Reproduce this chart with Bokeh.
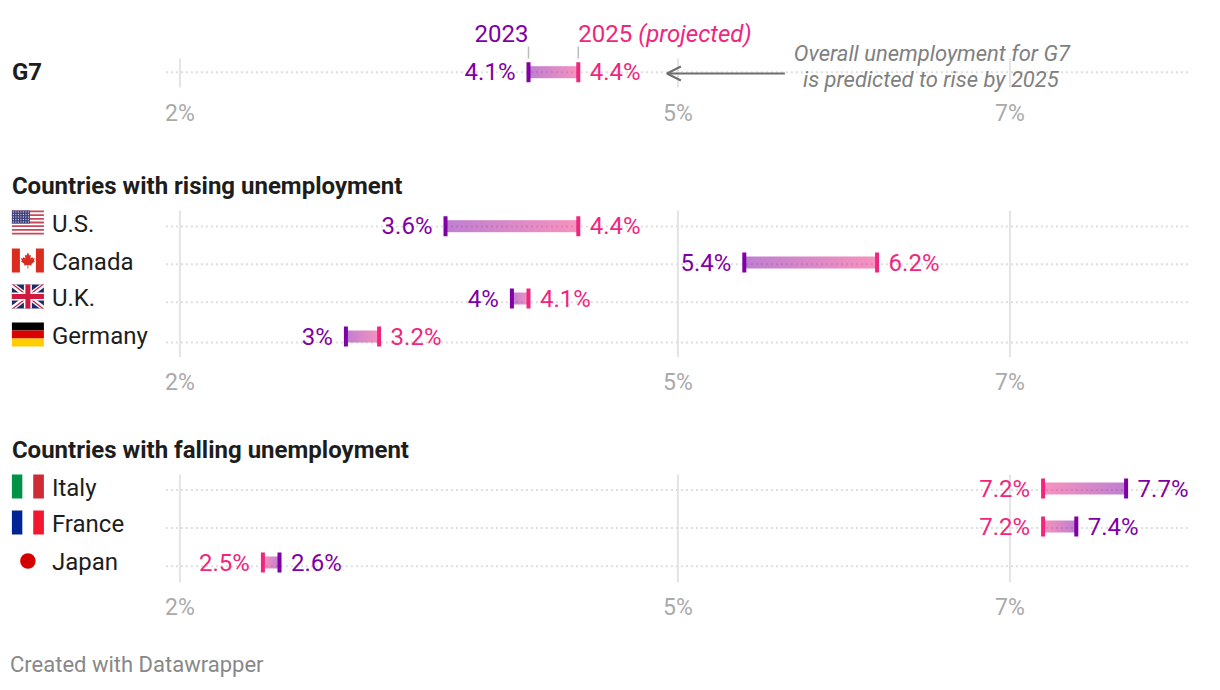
from bokeh.embed import file_html
from bokeh.resources import INLINE
from bokeh.plotting import figure
from bokeh.layouts import column
from bokeh.models import Range1d, FixedTicker, Div, Arrow, OpenHead
from bokeh.core.properties import value
import numpy as np

# ---- data
g7_name = ["G7"]
g7_2023 = [4.1]
g7_2025 = [4.4]
rising_names = ["U.S.", "Canada", "U.K.", "Germany"]
rising_2023 = [3.6, 5.4, 4.0, 3.0]
rising_2025 = [4.4, 6.2, 4.1, 3.2]
falling_names = ["Italy", "France", "Japan"]
falling_2023 = [7.7, 7.4, 2.6]
falling_2025 = [7.2, 7.2, 2.5]
tick_values = [2, 5, 7]
tick_labels = {2: "2%", 5: "5%", 7: "7%"}

# ---- layout (page pixels)
PURPLE = "#7f00a3"
PINK = "#f0267e"
FONT = "Roboto"
PER_UNIT = 166.0
ZERO_PX = 180.0      # page x of the 2% tick


def vx(px):
    return 2 + (px - ZERO_PX) / PER_UNIT


def fmt(v):
    return f"{v:g}%"


def hexrgb(c):
    return [int(c[i:i + 2], 16) for i in (1, 3, 5)]


def panel(top, frame_bottom, bottom, standoff):
    p = figure(width=1204, height=int(bottom - top), output_backend="svg",
               toolbar_location=None,
               x_range=Range1d(vx(0.6), vx(1204.6)),
               y_range=Range1d(frame_bottom, top),
               min_border_left=0, min_border_right=0, min_border_top=0,
               min_border_bottom=int(bottom - frame_bottom))
    p.outline_line_color = None
    p.grid.visible = False
    p.yaxis.visible = False
    ax = p.xaxis[0]
    ax.ticker = FixedTicker(ticks=tick_values)
    ax.major_label_overrides = tick_labels
    ax.axis_line_color = None
    ax.major_tick_line_color = None
    ax.minor_tick_line_color = None
    ax.major_label_standoff = standoff
    ax.major_label_text_font = FONT
    ax.major_label_text_font_size = "23px"
    ax.major_label_text_color = "#aaaaaa"
    return p


def txt(p, x, y, s, color="#1d1d1d", size="24px", style="normal", align="left", x_off=0):
    p.text(x=[x], y=[y], text=[s], text_font=value(FONT), text_font_size=size,
           text_font_style=style, text_color=color, text_align=align,
           text_baseline="middle", x_offset=x_off)


def rows(p, starts, ends, bar_y, dot_y, grid_top, grid_bottom):
    p.segment(x0=tick_values, x1=tick_values, y0=[grid_top] * 3, y1=[grid_bottom] * 3,
              line_color="#e4e4e4", line_width=2)
    for y in dot_y:
        p.segment(x0=[vx(166)], x1=[vx(1188)], y0=[y], y1=[y],
                  line_color="#dedede", line_width=2, line_dash="2 3")
    a, b = hexrgb(PURPLE), hexrgb(PINK)
    for s, e, y in zip(starts, ends, bar_y):
        lo, hi = min(s, e), max(s, e)
        n = max(int(round((hi - lo) * PER_UNIT)), 2)
        img = np.zeros((1, n, 4), dtype=np.uint8)
        for i in range(n):
            t = i / (n - 1)
            if s > e:
                t = 1 - t
            img[0, i] = [round(a[k] + (b[k] - a[k]) * t) for k in range(3)] + [128]
        p.image_rgba(image=[img.view(np.uint32).reshape(1, n)], x=[lo], y=[y - 6], dw=[hi - lo], dh=[12])
        p.segment(x0=[s], x1=[s], y0=[y - 10], y1=[y + 10], line_color=PURPLE, line_width=4)
        p.segment(x0=[e], x1=[e], y0=[y - 10], y1=[y + 10], line_color=PINK, line_width=4)
        s_left = s < e
        txt(p, s, y, fmt(s), PURPLE, align="right" if s_left else "left", x_off=-13 if s_left else 11.5)
        txt(p, e, y, fmt(e), PINK, align="left" if s_left else "right", x_off=11.5 if s_left else -13)


def box(p, x0, x1, y0, y1, color):
    p.quad(left=[vx(x0)], right=[vx(x1)], top=[y0], bottom=[y1], fill_color=color, line_color=None)


def poly(p, pts, color, fx=12, fy=0):
    p.patch(x=[vx(fx + q[0]) for q in pts], y=[fy + q[1] for q in pts], fill_color=color, line_color=None)


def flag_us(p, y):
    box(p, 12, 44, y, y + 24, "#ffffff")
    for i in range(0, 13, 2):
        box(p, 12, 44, y + i * 24 / 13, y + (i + 1) * 24 / 13, "#c8485a")
    box(p, 12, 30, y, y + 13, "#3c3f78")
    xs, ys = [], []
    for r in range(5):
        for c in range(7):
            xs.append(vx(13.5 + c * 2.5))
            ys.append(y + 1.5 + r * 2.5)
    p.scatter(x=xs, y=ys, size=1.3, fill_color="#c8cbe0", line_color=None)


def flag_ca(p, y):
    box(p, 12, 44, y, y + 24, "#ffffff")
    box(p, 12, 20, y, y + 24, "#db2c20")
    box(p, 36, 44, y, y + 24, "#db2c20")
    leaf = [(16, 4), (17.5, 7), (19, 6.5), (18.5, 10), (20.5, 8.5), (21, 10), (23, 9.7), (22, 12),
            (23, 12.7), (19.5, 15.5), (20, 17), (16.4, 16.5), (16.4, 20), (15.6, 20), (15.6, 16.5),
            (12, 17), (12.5, 15.5), (9, 12.7), (10, 12), (9, 9.7), (11, 10), (11.5, 8.5),
            (13.5, 10), (13, 6.5), (14.5, 7)]
    poly(p, leaf, "#db2c20", 12, y)


def flag_uk(p, y):
    box(p, 12, 44, y, y + 24, "#1c2a6b")
    poly(p, [(0, 0), (4, 0), (32, 21), (32, 24), (28, 24), (0, 3)], "#ffffff", 12, y)
    poly(p, [(32, 0), (28, 0), (0, 21), (0, 24), (4, 24), (32, 3)], "#ffffff", 12, y)
    poly(p, [(0, 0), (2, 0), (13, 8.5), (11, 8.5)], "#d0193f", 12, y)
    poly(p, [(32, 24), (30, 24), (19, 15.5), (21, 15.5)], "#d0193f", 12, y)
    poly(p, [(32, 0), (30, 0), (19, 8.5), (21, 8.5)], "#d0193f", 12, y)
    poly(p, [(0, 24), (2, 24), (13, 15.5), (11, 15.5)], "#d0193f", 12, y)
    box(p, 12, 44, y + 8, y + 16, "#ffffff")
    box(p, 24, 32, y, y + 24, "#ffffff")
    box(p, 12, 44, y + 9.5, y + 14.5, "#d0193f")
    box(p, 25.5, 30.5, y, y + 24, "#d0193f")


def flag_bands(p, y, colors, vertical):
    for i, c in enumerate(colors):
        if vertical:
            box(p, 12 + i * 32 / 3, 12 + (i + 1) * 32 / 3, y, y + 24, c)
        else:
            box(p, 12, 44, y + i * 8, y + (i + 1) * 8, c)


# ---- panel 1: G7
p1 = panel(0, 92, 150, 1)
rows(p1, g7_2023, g7_2025, [71.7], [71.7], 58, 87)
txt(p1, vx(12), 71.5, g7_name[0], style="bold")
txt(p1, g7_2023[0], 33, "2023", PURPLE, align="right")
txt(p1, g7_2025[0], 33, "2025", PINK)
txt(p1, g7_2025[0], 33, "(projected)", PINK, style="italic", x_off=60)
p1.segment(x0=g7_2023 + g7_2025, x1=g7_2023 + g7_2025, y0=[46, 46], y1=[58, 58],
           line_color="#bdbdbd", line_width=1.5)
p1.add_layout(Arrow(end=OpenHead(size=14, line_color="#6e6e6e", line_width=2),
                    x_start=vx(785), y_start=73, x_end=vx(667), y_end=73,
                    line_color="#6e6e6e", line_width=2))
txt(p1, vx(932), 52.5, "Overall unemployment for G7", "#808080", "22px", "italic", "center")
txt(p1, vx(931), 78.5, "is predicted to rise by 2025", "#808080", "22px", "italic", "center")

# ---- panel 2: rising
p2 = panel(150, 357, 410, 5)
txt(p2, vx(12), 185, "Countries with rising unemployment", style="bold")
rows(p2, rising_2023, rising_2025, [225.7, 262, 298, 336], [226, 263.7, 301.7, 342], 210, 357)
flag_us(p2, 210)
flag_ca(p2, 248)
flag_uk(p2, 284)
flag_bands(p2, 322, ["#000000", "#dd0000", "#ffce00"], False)
for n, y in zip(rising_names, [223, 261, 297, 335]):
    txt(p2, vx(52), y, n)

# ---- panel 3: falling
p3 = panel(410, 582, 640, 5)
txt(p3, vx(12), 449, "Countries with falling unemployment", style="bold")
rows(p3, falling_2023, falling_2025, [488, 526, 562], [489.5, 527.5, 565.7], 474, 582)
flag_bands(p3, 474, ["#009246", "#ffffff", "#ce2b37"], True)
flag_bands(p3, 510, ["#002395", "#ffffff", "#f31830"], True)
p3.scatter(x=[vx(28)], y=[560.5], size=15.5, fill_color="#d40000", line_color=None)
for n, y in zip(falling_names, [487, 523, 561]):
    txt(p3, vx(52), y, n)

footer = Div(text="Created with Datawrapper", width=1204, height=30, margin=(12, 0, 0, 10),
             styles={"font-family": FONT, "font-size": "22px", "color": "#888888", "line-height": "26px"})

page = column(p1, p2, p3, footer, spacing=0)
open("out.html", "w").write(file_html(page, INLINE))
